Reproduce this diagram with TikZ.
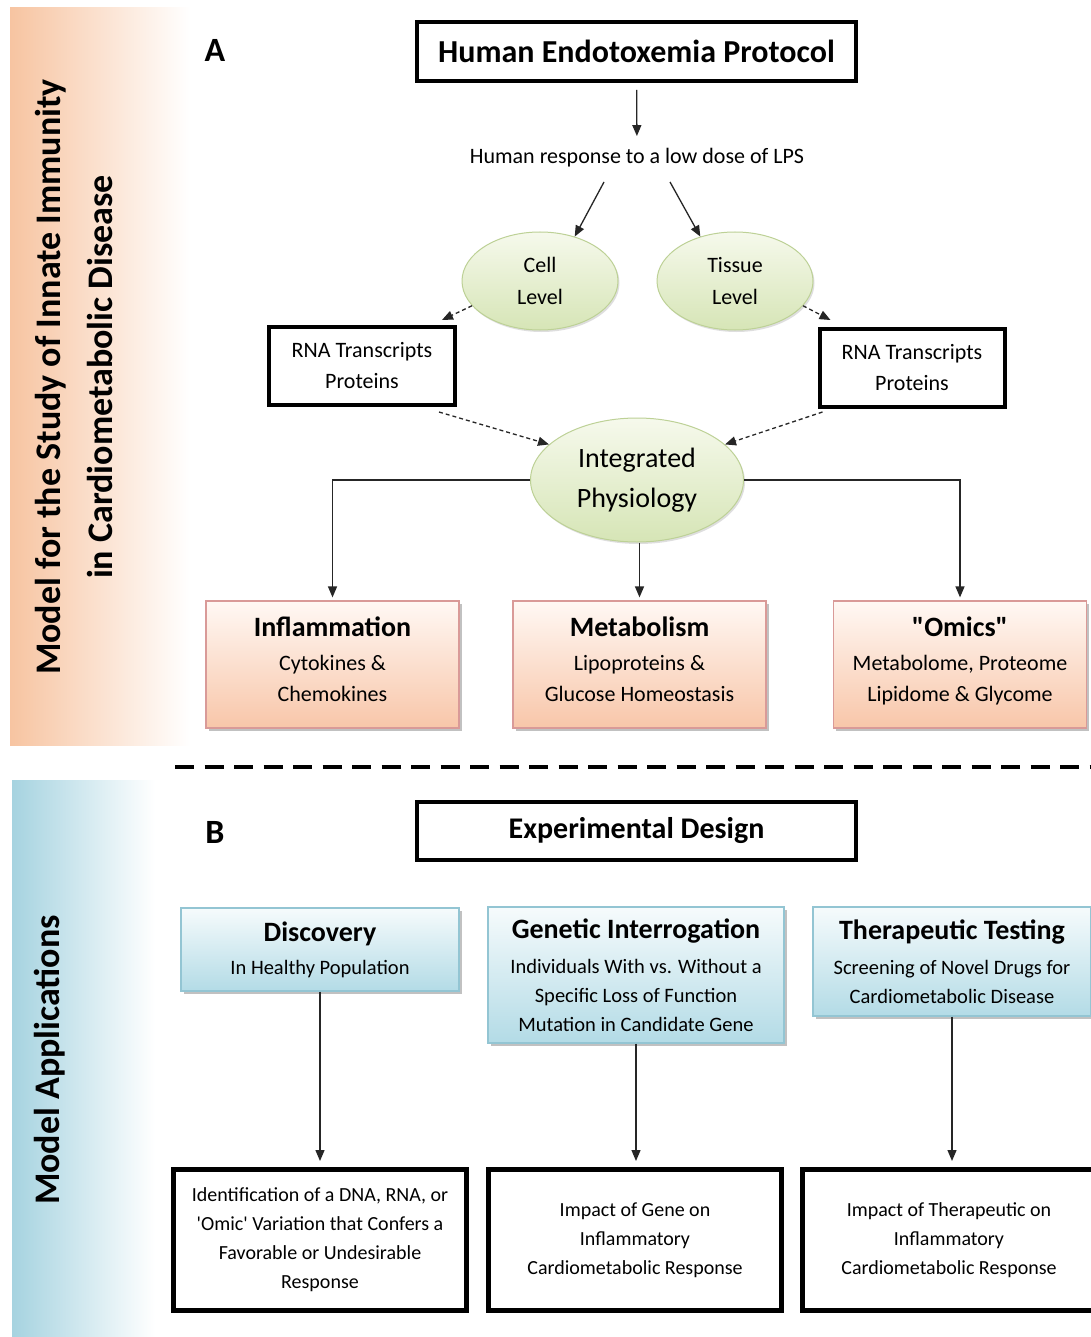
\documentclass[tikz,border=0pt]{standalone}
\usepackage{fontspec}
\setmainfont{Carlito}[Ligatures=TeXOff]
\usetikzlibrary{arrows.meta,shapes.geometric,shadows}
\definecolor{orangeband}{HTML}{F7C4A1}
\definecolor{blueband}{HTML}{A6D3E0}
\definecolor{pinktop}{HTML}{FFF8F4}
\definecolor{pinkbot}{HTML}{F8C6A9}
\definecolor{pinkline}{HTML}{D99A98}
\definecolor{bluetop}{HTML}{F6FBFC}
\definecolor{bluebot}{HTML}{B3DBE6}
\definecolor{blueline}{HTML}{93C5D3}
\definecolor{greentop}{HTML}{F6F9EC}
\definecolor{greenbot}{HTML}{D6E5B6}
\definecolor{greenline}{HTML}{BDD196}
\begin{document}
\begin{tikzpicture}[x=1pt,y=-1pt,
  thickbox/.style={draw, line width=4pt, inner sep=0pt, align=center},
  ell/.style={ellipse, draw=greenline, line width=1pt, top color=greentop, bottom color=greenbot,
    inner sep=0pt, align=center, font=\fontsize{22}{32}\selectfont,
    drop shadow={shadow xshift=1.5pt, shadow yshift=-2pt, fill=black!25, opacity=.5}},
  pinkbox/.style={rectangle, draw=pinkline, line width=1.2pt, top color=pinktop, bottom color=pinkbot,
    inner sep=0pt, align=center, minimum width=253pt, minimum height=127pt,
    font=\fontsize{22}{31}\selectfont,
    drop shadow={shadow xshift=2.5pt, shadow yshift=-3pt, fill=black!40, opacity=.6}},
  bluebox/.style={rectangle, draw=blueline, line width=1.2pt, top color=bluetop, bottom color=bluebot,
    inner sep=0pt, align=center, font=\fontsize{20.5}{29}\selectfont,
    drop shadow={shadow xshift=2.5pt, shadow yshift=-3pt, fill=black!40, opacity=.6}},
  resbox/.style={thickbox, line width=5pt, minimum width=293pt, minimum height=141pt,
    font=\fontsize{20}{29}\selectfont},
  arr/.style={-{Triangle[length=11pt,width=9pt]}, line width=1.3pt, black!85},
  darr/.style={-{Triangle[length=11pt,width=9pt]}, line width=1.3pt, black!85, dash pattern=on 4pt off 3pt},
  bandtxt/.style={rotate=90, align=center, font=\fontsize{36}{52}\selectfont\bfseries}
]
\useasboundingbox (0,0) rectangle (1090,1337);
\fill[white] (0,0) rectangle (1090,1337);

% side bands
\shade[left color=orangeband, right color=white] (10,8) rectangle (190,745);
\shade[left color=blueband, right color=white] (12,780) rectangle (155,1337);
\node[bandtxt] (bandA) at (74,377) {Model for the Study of Innate Immunity\\in Cardiometabolic Disease};
\node[bandtxt] (bandB) at (50,1060) {Model Applications};

% panel labels
\node[font=\fontsize{34}{38}\selectfont\bfseries] (labA) at (215,50) {A};
\node[font=\fontsize{34}{38}\selectfont\bfseries] (labB) at (215,832) {B};

% ---------- panel A ----------
\node[thickbox, minimum width=439pt, minimum height=59pt, font=\fontsize{32}{36}\selectfont\bfseries]
  (title) at (636.5,51.5) {Human Endotoxemia Protocol};
\node[font=\fontsize{22}{26}\selectfont] (lps) at (637,158) {Human response to a low dose of LPS};

\node[ell, minimum width=156pt, minimum height=98pt] (cell) at (540,281) {Cell\\Level};
\node[ell, minimum width=156pt, minimum height=98pt] (tissue) at (735,281) {Tissue\\Level};

\node[thickbox, minimum width=186pt, minimum height=78pt, font=\fontsize{22}{31}\selectfont]
  (rnaL) at (362,366) {RNA Transcripts\\Proteins};
\node[thickbox, minimum width=185pt, minimum height=78pt, font=\fontsize{22}{31}\selectfont]
  (rnaR) at (912,368) {RNA Transcripts\\Proteins};

\node[ell, minimum width=213pt, minimum height=124pt, font=\fontsize{28}{40}\selectfont]
  (integ) at (637,480) {Integrated\\Physiology};

\node[pinkbox] (inflam) at (332.5,664.5) {{\fontsize{28}{32}\selectfont\bfseries Inflammation}\\[3pt]Cytokines \&\\Chemokines\\[-30pt]\strut};
\node[pinkbox] (metab) at (639.5,664.5) {{\fontsize{28}{32}\selectfont\bfseries Metabolism}\\[3pt]Lipoproteins \&\\Glucose Homeostasis\\[-30pt]\strut};
\node[pinkbox] (omics) at (960,664.5) {{\fontsize{28}{32}\selectfont\bfseries "Omics"}\\[3pt]Metabolome, Proteome\\Lipidome \& Glycome\\[-30pt]\strut};

% connectors A
\draw[arr, shorten <=7pt, shorten >=9pt] (title) -- (lps);
\draw[arr] ([xshift=-33pt,yshift=-24pt]lps.center) -- (cell.52);
\draw[arr] ([xshift=33pt,yshift=-24pt]lps.center) -- (tissue.128);
\draw[darr] (cell.200) -- ([xshift=-15pt,yshift=5pt]rnaL.north east);
\draw[darr] (tissue.-20) -- ([xshift=13pt,yshift=7pt]rnaR.north west);
\draw[darr] ([xshift=-18pt,yshift=-5pt]rnaL.south east) -- (integ.158);
\draw[darr] ([xshift=5pt,yshift=-3pt]rnaR.south west) -- (integ.22);
\draw[arr, shorten >=3pt] (integ.west) -| (inflam.north);
\draw[arr, shorten >=3pt] (integ.east) -| (omics.north);
\draw[arr, shorten >=3pt] (integ.south -| metab.north) -- (metab.north);

% separator
\coordinate (sepL) at (175,767);
\coordinate (sepR) at (1092,767);
\draw[line width=4.5pt, dash pattern=on 19pt off 10.5pt] (sepL) -- (sepR);

% ---------- panel B ----------
\node[thickbox, minimum width=439pt, minimum height=58pt, font=\fontsize{30}{36}\selectfont\bfseries]
  (design) at (636.5,831) {Experimental Design};

\node[bluebox, minimum width=278pt, minimum height=83pt] (disc) at (320,949.5)
  {{\fontsize{28}{32}\selectfont\bfseries Discovery}\\[4pt]In Healthy Population};
\node[bluebox, minimum width=296pt, minimum height=136pt] (gen) at (636,975)
  {{\fontsize{28}{32}\selectfont\bfseries Genetic Interrogation}\\[6pt]Individuals With vs. Without a\\Specific Loss of Function\\Mutation in Candidate Gene};
\node[bluebox, minimum width=278pt, minimum height=109pt] (ther) at (952,961.5)
  {{\fontsize{28}{32}\selectfont\bfseries Therapeutic Testing}\\[6pt]Screening of Novel Drugs for\\Cardiometabolic Disease};

\node[resbox] (res1) at (320,1240) {Identification of a DNA, RNA, or\\'Omic' Variation that Confers a\\Favorable or Undesirable\\Response};
\node[resbox] (res2) at (635,1240) {Impact of Gene on\\Inflammatory\\Cardiometabolic Response};
\node[resbox] (res3) at (949,1240) {Impact of Therapeutic on\\Inflammatory\\Cardiometabolic Response};

\draw[arr, shorten >=6pt] (disc.south) -- (disc.south |- res1.north);
\draw[arr, shorten >=6pt] (gen.south) -- (gen.south |- res2.north);
\draw[arr, shorten >=6pt] (ther.south) -- (ther.south |- res3.north);
\end{tikzpicture}
\end{document}
